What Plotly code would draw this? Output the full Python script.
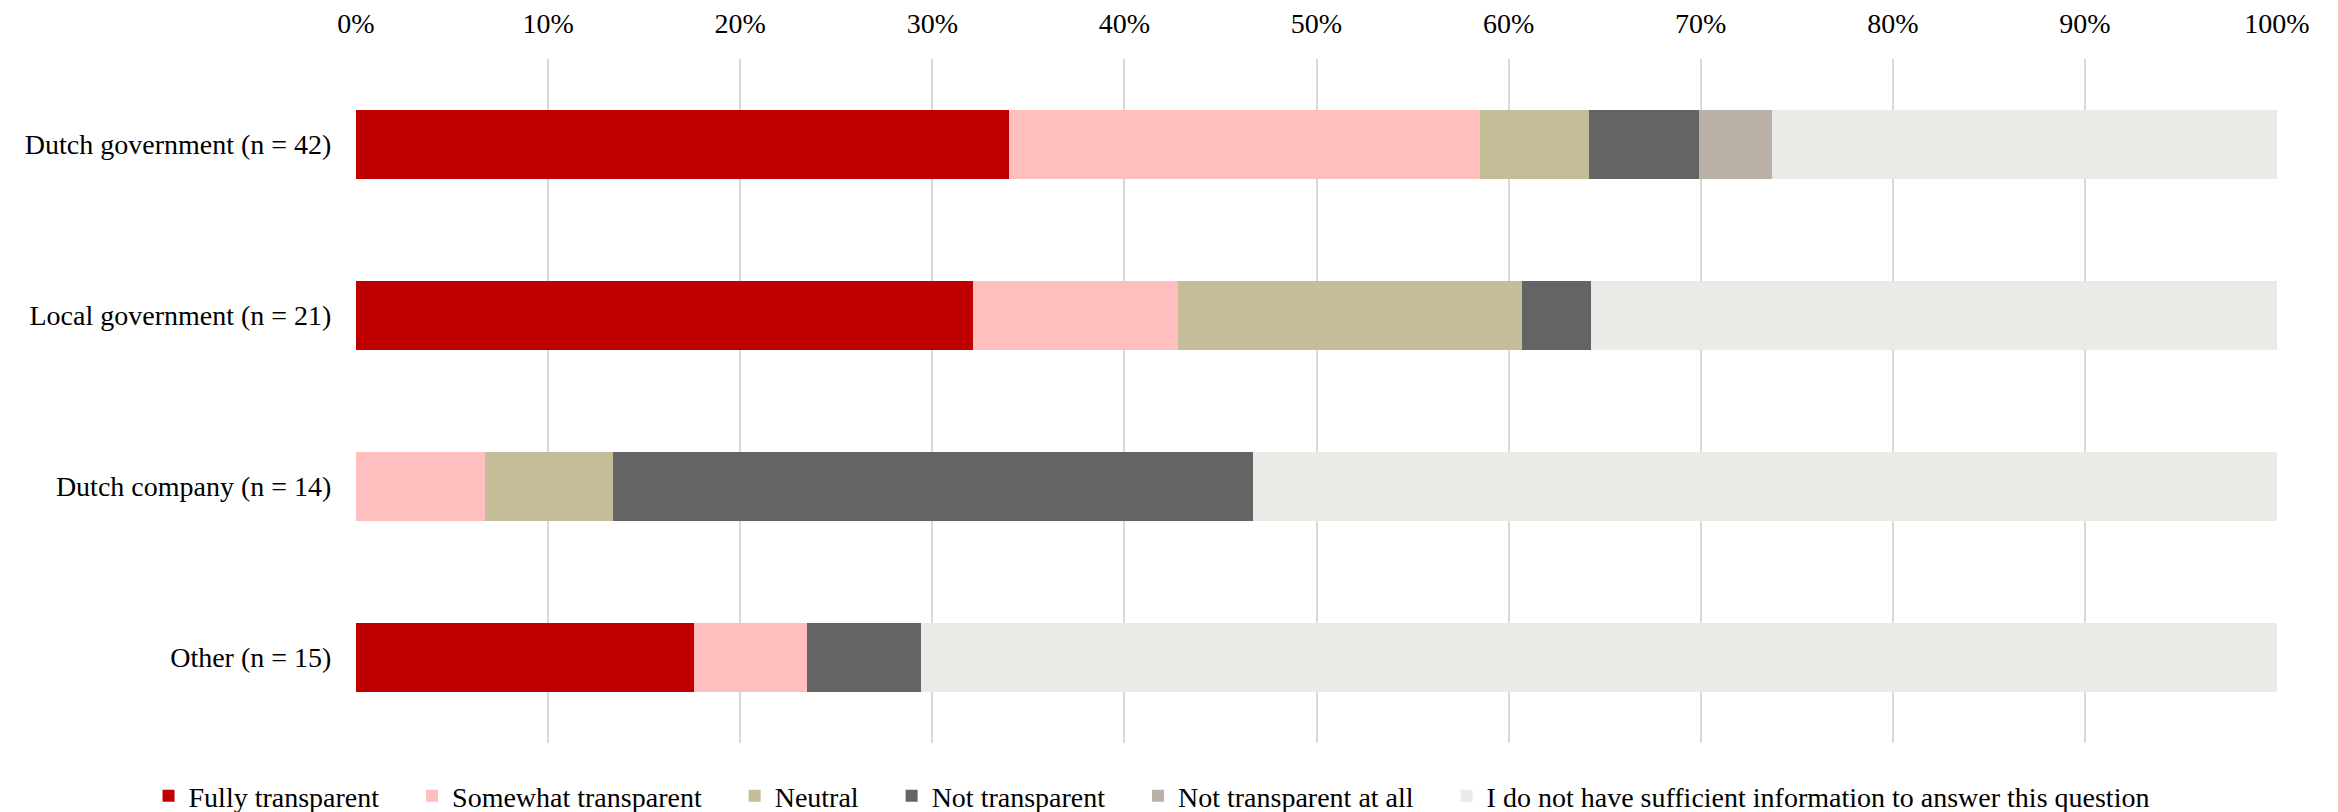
import plotly.graph_objects as go

categories = ["Dutch government (n = 42)", "Local government (n = 21)", "Dutch company (n = 14)", "Other (n = 15)"]

# share of respondents per answer, in percent
fully_transparent = [34.0, 32.1, 0.0, 17.6]
somewhat_transparent = [24.5, 10.7, 6.7, 5.9]
neutral = [5.7, 17.9, 6.7, 0.0]
not_transparent = [5.7, 3.6, 33.3, 5.9]
not_transparent_at_all = [3.8, 0.0, 0.0, 0.0]
no_information = [26.3, 35.7, 53.3, 70.6]

answers = ["Fully transparent", "Somewhat transparent", "Neutral", "Not transparent",
           "Not transparent at all", "I do not have sufficient information to answer this question"]
values = [fully_transparent, somewhat_transparent, neutral, not_transparent,
          not_transparent_at_all, no_information]
colors = ["#C00000", "#FFBFBF", "#C4BD97", "#646464", "#B9B1A5", "#EBEAE6"]

font = "Liberation Serif"
pad = "\u00a0" * 4  # extra room between legend entries

fig = go.Figure()
for i, (name, vals, color) in enumerate(zip(answers, values, colors)):
    fig.add_trace(go.Bar(
        y=categories, x=vals, name=name + (pad if i < len(answers) - 1 else ""),
        orientation="h", marker=dict(color=color, line=dict(width=0)),
        hovertemplate="%{y}<br>" + name + ": %{x}%<extra></extra>",
    ))

fig.update_layout(
    barmode="stack", bargap=0.6,
    width=2330, height=804,
    paper_bgcolor="white", plot_bgcolor="white",
    font=dict(family=font, size=28, color="#000000"),
    margin=dict(l=348, r=61, t=51, b=69, autoexpand=False),
    xaxis=dict(
        side="top", range=[0, 100], dtick=10, ticksuffix="%",
        showgrid=True, gridcolor="#D9D9D9", gridwidth=1.5,
        zeroline=False, showline=False, automargin=False,
        ticks="outside", ticklen=14, tickcolor="rgba(0,0,0,0)",
        tickfont=dict(size=28),
    ),
    yaxis=dict(
        autorange="reversed", showgrid=False, showline=False, automargin=False,
        ticks="outside", ticklen=18, tickcolor="rgba(0,0,0,0)",
        tickfont=dict(size=28),
    ),
    legend=dict(
        orientation="h", x=-0.108, xanchor="left", y=-0.0775, yanchor="middle",
        font=dict(size=28), traceorder="normal",
    ),
)

fig.write_html("out.html")
